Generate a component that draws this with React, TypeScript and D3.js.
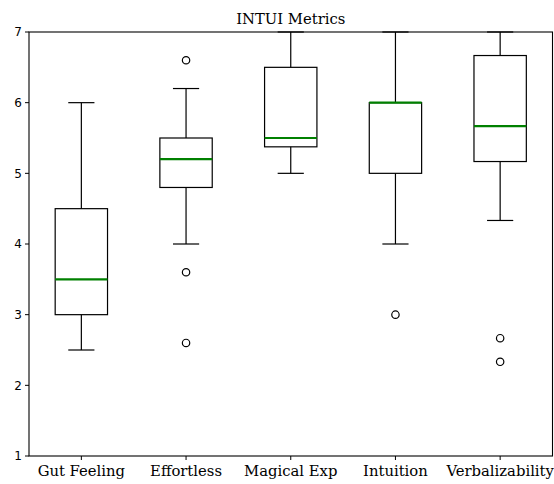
import React from "react";
import * as d3 from "d3";

const categories = ["Gut Feeling", "Effortless", "Magical Exp", "Intuition", "Verbalizability"];
const whiskerLow = [2.5, 4.0, 5.0, 4.0, 4.333];
const q1 = [3.0, 4.8, 5.375, 5.0, 5.167];
const medians = [3.5, 5.2, 5.5, 6.0, 5.667];
const q3 = [4.5, 5.5, 6.5, 6.0, 6.667];
const whiskerHigh = [6.0, 6.2, 7.0, 7.0, 7.0];
const outliers: number[][] = [[], [6.6, 3.6, 2.6], [], [3.0], [2.667, 2.333]];
const yTicks = [1, 2, 3, 4, 5, 6, 7];
const title = "INTUI Metrics";

const W = 554, H = 484;
const L = 29, R = 552.5, T = 32, B = 456;

export default function App() {
  const x = d3.scaleLinear().domain([0.5, 5.5]).range([L, R]);
  const y = d3.scaleLinear().domain([1, 7]).range([B, T]);
  const bw = (x(1.25) - x(1)) ;
  const cw = (x(1.125) - x(1));
  const serif = "'DejaVu Serif', serif";
  const sans = "'DejaVu Sans', sans-serif";
  return (
    <svg width={W} height={H} style={{ position: "absolute", left: 0, top: 0 }}>
      <rect x={0} y={0} width={W} height={H} fill="white" />
      <text x={(L + R) / 2} y={T - 8} textAnchor="middle" fontFamily={serif} fontSize={14.8}>{title}</text>
      {categories.map((c, i) => {
        const cx = x(i + 1);
        return (
          <g key={c}>
            <line x1={cx} x2={cx} y1={y(whiskerLow[i])} y2={y(q1[i])} stroke="black" strokeWidth={1.2} />
            <line x1={cx} x2={cx} y1={y(q3[i])} y2={y(whiskerHigh[i])} stroke="black" strokeWidth={1.2} />
            <line x1={cx - cw} x2={cx + cw} y1={y(whiskerLow[i])} y2={y(whiskerLow[i])} stroke="black" strokeWidth={1.2} />
            <line x1={cx - cw} x2={cx + cw} y1={y(whiskerHigh[i])} y2={y(whiskerHigh[i])} stroke="black" strokeWidth={1.2} />
            <rect x={cx - bw} y={y(q3[i])} width={2 * bw} height={y(q1[i]) - y(q3[i])} fill="none" stroke="black" strokeWidth={1.2} />
            <line x1={cx - bw} x2={cx + bw} y1={y(medians[i])} y2={y(medians[i])} stroke="green" strokeWidth={2.2} />
            {outliers[i].map((v, j) => (
              <circle key={j} cx={cx} cy={y(v)} r={3.7} fill="none" stroke="black" strokeWidth={1.2} />
            ))}
            <line x1={cx} x2={cx} y1={B} y2={B + 4} stroke="black" strokeWidth={1} />
            <text x={cx} y={B + 20} textAnchor="middle" fontFamily={serif} fontSize={14.8}>{c}</text>
          </g>
        );
      })}
      {yTicks.map((t) => (
        <g key={t}>
          <line x1={L - 4} x2={L} y1={y(t)} y2={y(t)} stroke="black" strokeWidth={1} />
          <text x={L - 7} y={y(t)} dy="0.35em" textAnchor="end" fontFamily={sans} fontSize={12}>{t}</text>
        </g>
      ))}
      <rect x={L} y={T} width={R - L} height={B - T} fill="none" stroke="black" strokeWidth={1.1} />
    </svg>
  );
}
